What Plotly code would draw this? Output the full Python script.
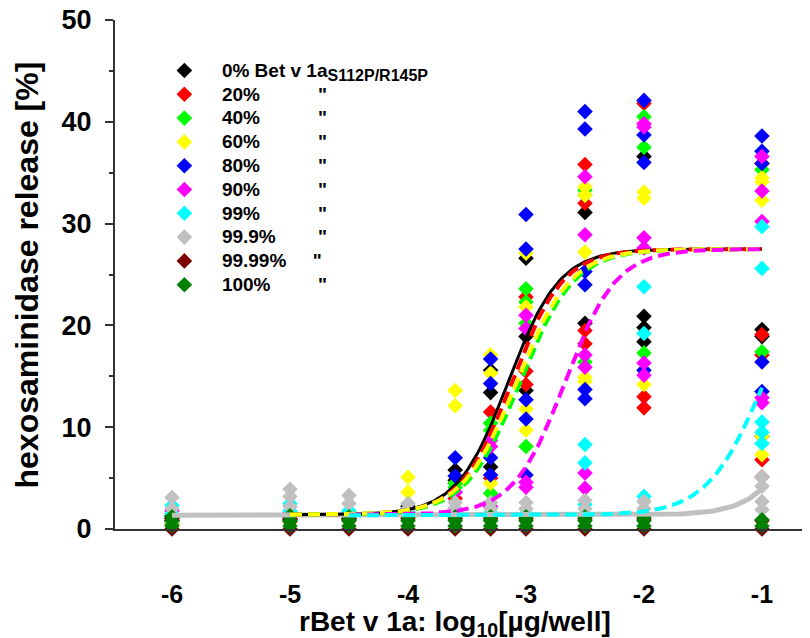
import numpy as np
import plotly.graph_objects as go

# dilution steps (log10 µg/well)
conc = [-6, -5, -4.5, -4, -3.6, -3.3, -3, -2.5, -2, -1]
tick_vals = [-6, -5, -4, -3, -2, -1]
tick_text = ["-6", "-5", "-4", "-3", "-2", "-1"]

labels = ["0% Bet v 1a<sub><span style='font-size:16px'>S112P/R145P</span></sub>",
          "20%", "40%", "60%", "80%", "90%", "99%", "99.9%", "99.99%", "100%"]
ditto_pad = [0, 11, 11, 11, 11, 11, 11, 8, 5, 9]
colors = ["#000000", "#FF0000", "#00FF00", "#FFFF00", "#0000FF",
          "#FF00FF", "#00FFFF", "#C0C0C0", "#800000", "#008000"]

# release values per series, one list per concentration step
black = [[0.8, 1.3], [0.9, 1.4], [1.0, 1.5], [1.6, 2.2], [5.8, 4.8],
         [15.6, 13.4, 6.1], [26.6, 18.9, 13.6], [31.1, 20.2],
         [36.6, 20.9, 19.8, 18.4], [19.6, 18.9, 9.1]]
red = [[0.5, 1.0], [0.7, 1.2], [0.8, 1.3], [1.2, 2.0], [4.5, 3.0],
       [11.5, 5.0], [22.8, 15.5, 14.2], [35.8, 32.0, 19.5, 18.2],
       [41.8, 13.0, 11.9], [35.9, 19.1, 17.1, 6.8, 5.1]]
lime = [[0.6, 1.1], [0.8, 1.2], [0.9, 1.4], [1.4, 2.0], [4.1, 4.5],
        [10.4, 9.7, 3.5], [23.6, 22.3, 20.2, 8.1], [33.3, 32.8, 16.4],
        [40.5, 37.5, 17.3], [35.3, 17.4]]
yellow = [[0.7, 1.2], [0.9, 1.3], [1.0, 1.5], [5.1, 3.6], [13.6, 12.1],
          [17.1, 15.3, 4.5], [27.1, 21.8, 11.8, 9.7],
          [33.6, 32.8, 27.2, 14.9, 14.5], [33.1, 32.5, 14.2],
          [34.5, 34.1, 32.3, 9.1, 7.3]]
blue = [[0.8, 1.2], [0.9, 1.3], [1.6, 1.0], [2.0, 1.4], [7.0, 5.2],
        [16.7, 14.3, 7.0, 5.3], [30.9, 27.5, 12.7, 10.8, 5.3],
        [41.0, 39.3, 25.3, 24.0, 13.7, 12.8], [42.1, 38.7, 36.0, 15.6],
        [38.6, 37.1, 35.9, 16.4, 13.5]]
magenta = [[1.8, 1.0], [1.6, 1.1], [1.2], [1.5], [3.6, 2.0],
           [8.7, 8.1, 2.2], [21.0, 19.7, 4.6, 4.1],
           [34.6, 28.9, 17.1, 15.9, 5.5, 4.0],
           [39.8, 39.5, 28.6, 27.6, 16.3, 15.1],
           [36.6, 33.2, 30.2, 12.9, 12.4]]
cyan = [[2.3, 1.5], [2.5, 1.8], [1.8], [1.7], [1.5], [1.6], [1.5],
        [8.3, 6.5, 2.4], [23.8, 19.2, 3.2], [29.7, 25.6, 10.5, 9.5, 8.4]]
gray = [[3.1, 2.0], [3.9, 3.2, 2.2], [3.3, 2.5], [2.5, 2.0], [2.6, 2.0],
        [2.6, 2.0], [2.6, 2.0], [2.8, 2.0], [2.7, 2.0], [5.1, 4.2, 2.7, 1.9]]
darkred = [[0.0, 1.0], [0.0, 1.0], [0.0, 1.0], [0.0, 1.0], [0.0, 1.0],
           [0.0, 1.0], [0.0, 1.0], [0.0, 1.0], [0.0, 1.0], [0.0, 0.8]]
green = [[0.3, 0.8, 1.2], [0.3, 0.8, 1.3], [0.3, 0.8, 1.2], [0.3, 0.8, 1.2],
         [0.3, 0.8, 1.2], [0.3, 0.8, 1.2], [0.3, 0.8, 1.2], [0.3, 0.8, 1.2],
         [0.3, 0.8, 1.2], [0.3, 0.9]]
series = [black, red, lime, yellow, blue, magenta, cyan, gray, darkred, green]

# fitted dose-response curves (4PL): color, bottom, top, logEC50, hill, start
fit_color = ["#C0C0C0", "#000000", "#FF0000", "#00FF00", "#FFFF00", "#FF00FF", "#00FFFF"]
fit_bottom = [1.35, 1.4, 1.4, 1.4, 1.4, 1.4, 1.35]
fit_top = [27.5, 27.5, 27.5, 27.5, 27.5, 27.5, 27.5]
fit_ec50 = [-0.52, -3.15, -3.12, -3.05, -3.08, -2.67, -0.98]
fit_hill = [2.0, 2.0, 2.0, 1.9, 1.9, 2.0, 1.8]
fit_start = [-6, -5, -5, -5, -5, -4.5, -4.5]
fit_dash = ["solid", "solid", "dash", "dash", "dash", "dash", "dash"]
fit_width = [5, 3, 4, 4, 4, 4, 4]

FONT = "Arial, Liberation Sans, sans-serif"

fig = go.Figure()

for lab, pad, col, data in zip(labels, ditto_pad, colors, series):
    xs, ys = [], []
    for c, vals in zip(conc, data):
        xs += [c] * len(vals)
        ys += vals
    text = lab if pad == 0 else lab + "\u00a0" * pad + '"'
    # bigger text than the legend font keeps the rows tight
    name = "<span style='font-size:19px'>" + text + "</span>"
    fig.add_trace(go.Scatter(x=xs, y=ys, mode="markers", name=name,
                             marker=dict(symbol="diamond", size=12, color=col,
                                         line=dict(width=0)),
                             cliponaxis=False))

for col, b, t, ec, h, s, d, w in zip(fit_color, fit_bottom, fit_top, fit_ec50,
                                      fit_hill, fit_start, fit_dash, fit_width):
    xx = np.linspace(s, -1, 200)
    yy = b + (t - b) / (1 + 10 ** ((ec - xx) * h))
    fig.add_trace(go.Scatter(x=xx, y=yy, mode="lines", showlegend=False,
                             line=dict(color=col, width=w,
                                       dash="solid" if d == "solid" else "12px,6px")))

# page has an 8px body margin, so the figure is 8px smaller than the window
fig.update_layout(
    width=802, height=630,
    margin=dict(l=107, r=2, t=12, b=109),
    plot_bgcolor="white", paper_bgcolor="white",
    font=dict(family=FONT, color="black"),
    showlegend=True,
    legend=dict(x=0.046, y=0.934, xanchor="left", yanchor="top", itemwidth=65,
                bgcolor="rgba(0,0,0,0)", font=dict(size=16, weight="bold"),
                itemclick=False),
    annotations=[
        dict(text="rBet v 1a: log<sub>10</sub>[µg/well]", xref="paper", yref="paper",
             x=0.49, y=-0.186, xanchor="center", yanchor="middle", showarrow=False,
             font=dict(size=28, weight="bold")),
        dict(text="hexosaminidase release [%]", xref="paper", yref="paper",
             x=-0.127, y=0.5, xanchor="center", yanchor="middle", showarrow=False,
             textangle=-90, font=dict(size=32, weight="bold")),
    ],
)
fig.update_xaxes(range=[-6.483, -0.61], tickvals=tick_vals, ticktext=tick_text,
                 showline=True, linecolor="#333333", linewidth=2,
                 ticks="outside", ticklen=4, tickwidth=2, tickcolor="#333333",
                 showgrid=False, zeroline=False, ticklabelstandoff=38,
                 ticklabeloverflow="allow", automargin=False,
                 tickfont=dict(size=25, weight="bold"))
fig.update_yaxes(range=[0, 50], dtick=10, showline=True, linecolor="#333333",
                 linewidth=2, ticks="outside", ticklen=8, tickwidth=2,
                 tickcolor="#333333", showgrid=False, zeroline=False,
                 minor=dict(dtick=5, ticks="outside", ticklen=4, tickwidth=2,
                            tickcolor="#333333", showgrid=False),
                 ticklabelstandoff=8, ticklabeloverflow="allow", automargin=False,
                 tickfont=dict(size=27, weight="bold"))

fig.write_html("out.html")
